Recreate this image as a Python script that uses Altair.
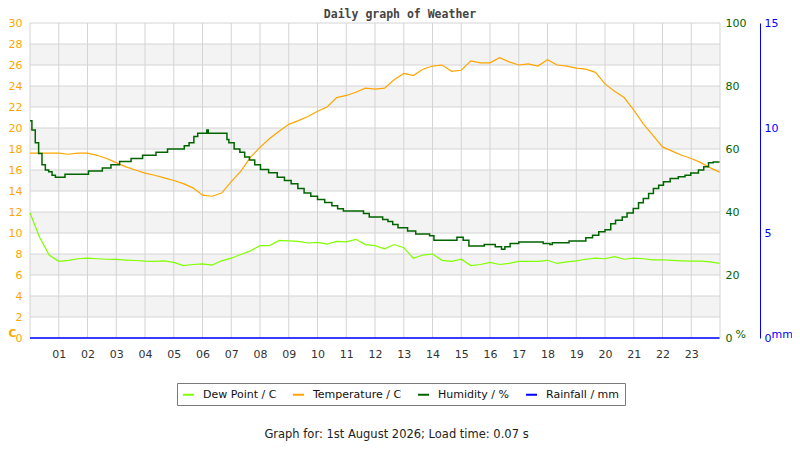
import altair as alt
import pandas as pd

# ---- data (time in minutes since midnight) ----
MINUTES = [
    0, 20, 40, 60, 80, 100, 120, 140, 160, 180, 200, 220,
    240, 260, 280, 300, 320, 340, 360, 380, 400, 420, 440, 460,
    480, 500, 520, 540, 560, 580, 600, 620, 640, 660, 680, 700,
    720, 740, 760, 780, 800, 820, 840, 860, 880, 900, 920, 940,
    960, 980, 1000, 1020, 1040, 1060, 1080, 1100, 1120, 1140, 1160, 1180,
    1200, 1220, 1240, 1260, 1280, 1300, 1320, 1340, 1360, 1380, 1400, 1420,
    1439,
]
TEMPERATURE = [
    17.6, 17.6, 17.6, 17.6, 17.5, 17.6, 17.6, 17.4, 17.1, 16.7, 16.3, 16.0,
    15.7, 15.5, 15.25, 15.0, 14.7, 14.3, 13.6, 13.5, 13.8, 14.9, 15.9, 17.2,
    18.15, 19.0, 19.7, 20.35, 20.7, 21.1, 21.6, 22.0, 22.9, 23.1, 23.4, 23.8,
    23.7, 23.8, 24.6, 25.2, 25.0, 25.6, 25.9, 26.0, 25.4, 25.5, 26.4, 26.2,
    26.2, 26.7, 26.3, 26.0, 26.1, 25.9, 26.5, 26.0, 25.9, 25.7, 25.6, 25.3,
    24.2, 23.5, 22.9, 21.7, 20.4, 19.3, 18.2, 17.8, 17.4, 17.1, 16.7, 16.2,
    15.8,
]
DEW_POINT = [
    11.9, 9.6, 7.9, 7.3, 7.4, 7.55, 7.6, 7.55, 7.5, 7.48, 7.42, 7.38,
    7.32, 7.3, 7.35, 7.2, 6.9, 7.0, 7.05, 6.95, 7.35, 7.6, 7.95, 8.3,
    8.8, 8.8, 9.3, 9.25, 9.2, 9.05, 9.1, 8.95, 9.2, 9.15, 9.4, 8.9,
    8.8, 8.5, 8.9, 8.6, 7.6, 7.9, 8.0, 7.4, 7.3, 7.5, 6.9, 7.0,
    7.2, 7.0, 7.1, 7.3, 7.3, 7.3, 7.4, 7.1, 7.25, 7.35, 7.5, 7.6,
    7.55, 7.75, 7.5, 7.6, 7.55, 7.45, 7.45, 7.4, 7.35, 7.32, 7.32, 7.25,
    7.1,
]
# humidity is logged as steps: minute at which each new reading starts
HUM_MINUTES = [
    0, 4, 11, 18, 25, 32, 39, 46, 53, 73, 122, 151, 169, 187, 211, 235,
    263, 287, 322, 332, 342, 350, 369, 372, 411, 415, 426, 438, 448, 458,
    469, 481, 498, 516, 531, 545, 559, 572, 586, 600, 615, 630, 642, 654,
    696, 708, 736, 747, 757, 768, 788, 805, 834, 843, 891, 904, 916, 948,
    971, 984, 991, 1002, 1020, 1071, 1085, 1090, 1125, 1160, 1174, 1187,
    1200, 1212, 1222, 1236, 1246, 1259, 1270, 1280, 1291, 1301, 1312, 1322,
    1336, 1353, 1367, 1379, 1395, 1406, 1416, 1426, 1439,
]
HUMIDITY = [
    69, 66, 62, 58.6, 55, 53.3, 52.8, 51.7, 51, 52, 53, 54, 55, 56, 57, 58,
    59, 60, 61, 62, 64, 65, 66, 65, 63, 62, 60, 59, 57.5, 56.5,
    55, 53.5, 52.5, 51, 50, 49, 47.5, 46, 45, 44, 43, 42, 41, 40.3,
    39.5, 38.4, 37.6, 37, 36, 35, 34, 33, 32.5, 31, 32, 31, 29.2, 29.7,
    29, 28.2, 29, 30, 30.5, 30, 29.7, 30.2, 30.8, 31.8, 32.6, 33.7,
    34.4, 36.3, 37.4, 38.4, 39.7, 41.1, 42.9, 44.3, 45.9, 47.5, 48.5, 49.6,
    50.6, 51.2, 51.7, 52.4, 53.3, 54.4, 55.6, 55.9, 55.9,
]
RAIN_MINUTES = [0, 1439]
RAINFALL = [0.0, 0.0]

SERIES = ["Dew Point / C", "Temperature / C", "Humidity / %", "Rainfall / mm"]
COLORS = ["#80ff00", "#ffa500", "#006400", "#0000ff"]

GRID_HOURS = list(range(0, 25))
LABEL_HOURS = list(range(1, 24))
TEMP_TICKS = list(range(0, 31, 2))
BAND_STARTS = [2, 6, 10, 14, 18, 22, 26]
HUM_TICKS = [0, 20, 40, 60, 80, 100]
RAIN_TICKS = [0, 5, 10, 15]

TITLE = "Daily graph of Weather"
FOOTER = "Graph for: 1st August 2026; Load time: 0.07 s"

FONT = "DejaVu Sans"

# ---- tables ----
hours = [m / 60 for m in MINUTES]
temp_df = pd.DataFrame(
    {"hour": hours * 2,
     "value": DEW_POINT + TEMPERATURE,
     "series": [SERIES[0]] * len(hours) + [SERIES[1]] * len(hours)}
)
hum_df = pd.DataFrame({"hour": [m / 60 for m in HUM_MINUTES], "value": HUMIDITY,
                       "series": SERIES[2]})
rain_df = pd.DataFrame({"hour": [m / 60 for m in RAIN_MINUTES], "value": RAINFALL,
                        "series": SERIES[3]})
band_df = pd.DataFrame({"lo": BAND_STARTS, "hi": [b + 2 for b in BAND_STARTS]})
vgrid_df = pd.DataFrame({"hour": GRID_HOURS})
hgrid_df = pd.DataFrame({"t": TEMP_TICKS})

x_scale = alt.Scale(domain=[0, 24], nice=False, zero=False)
t_scale = alt.Scale(domain=[0, 30], nice=False)
h_scale = alt.Scale(domain=[0, 100], nice=False)
r_scale = alt.Scale(domain=[0, 15], nice=False)
color_scale = alt.Scale(domain=SERIES, range=COLORS)

GRID_COLOR = "#d4d4d4"

x_axis = alt.Axis(
    values=LABEL_HOURS,
    labelExpr="datum.value < 10 ? '0' + datum.value : '' + datum.value",
    grid=False, ticks=False, domain=False,
    labelColor="#333333", labelFont=FONT, labelFontSize=11, labelPadding=10,
    labelFlush=False, labelOverlap=False,
    title=FOOTER, titleX=366, titleY=99, titleAlign="center",
    titleBaseline="alphabetic", titleFont=FONT, titleFontSize=11.5,
    titleFontWeight="normal", titleColor="#222222",
)
t_axis = alt.Axis(
    values=TEMP_TICKS, grid=False, ticks=False, domain=False,
    labelColor="#ffa500", labelFont=FONT, labelFontSize=11, labelPadding=8,
    labelFlush=False, labelOverlap=False,
    title="C", titleAngle=0, titleX=-22, titleY=313, titleAlign="left",
    titleBaseline="alphabetic", titleColor="#ffa500", titleFont=FONT,
    titleFontSize=10.5, titleFontWeight="bold",
)
h_axis = alt.Axis(
    orient="right", values=HUM_TICKS, grid=False, ticks=False, domain=False,
    labelColor="#006400", labelFont=FONT, labelFontSize=11, labelPadding=5,
    labelFlush=False, labelOverlap=False,
    title="%", titleAngle=0, titleX=15, titleY=314, titleAlign="left",
    titleBaseline="alphabetic", titleColor="#006400", titleFont=FONT,
    titleFontSize=11, titleFontWeight="normal",
)
r_axis = alt.Axis(
    orient="right", offset=40, values=RAIN_TICKS, grid=False, ticks=False,
    domain=True, domainColor="#0000ff", domainWidth=1,
    labelColor="#0000ff", labelFont=FONT, labelFontSize=11, labelPadding=4,
    labelFlush=False, labelOverlap=False,
    title="mm", titleAngle=0, titleX=11, titleY=314, titleAlign="left",
    titleBaseline="alphabetic", titleColor="#0000ff", titleFont=FONT,
    titleFontSize=11, titleFontWeight="normal",
)

legend = alt.Legend(
    title=None, orient="none", legendX=147, legendY=360, direction="horizontal",
    columns=4, strokeColor="#7a7a7a", fillColor="#ffffff", padding=5,
    symbolType="stroke", symbolSize=121, symbolStrokeWidth=2,
    labelFont=FONT, labelFontSize=11, labelColor="#111111",
    labelOffset=8, columnPadding=12,
)

def xenc():
    return alt.X("hour:Q", scale=x_scale, axis=x_axis, title=FOOTER)

bands = alt.Chart(band_df).mark_rect(color="#f3f3f3").encode(
    x=alt.datum(0, scale=x_scale, axis=x_axis, title=FOOTER),
    x2=alt.datum(24),
    y=alt.Y("lo:Q", scale=t_scale, axis=t_axis, title="C"),
    y2="hi:Q",
)
vgrid = alt.Chart(vgrid_df).mark_rule(color=GRID_COLOR, strokeWidth=1).encode(
    x=xenc()
)
hgrid = alt.Chart(hgrid_df).mark_rule(color=GRID_COLOR, strokeWidth=1).encode(
    y=alt.Y("t:Q", scale=t_scale, axis=t_axis, title="C")
)
temp_lines = alt.Chart(temp_df).mark_line(strokeWidth=1.2).encode(
    x=xenc(),
    y=alt.Y("value:Q", scale=t_scale, axis=t_axis, title="C"),
    color=alt.Color("series:N", scale=color_scale, legend=legend, sort=SERIES),
    detail="series:N",
)
temp_layer = alt.layer(bands, vgrid, hgrid, temp_lines)

hum_layer = alt.Chart(hum_df).mark_line(strokeWidth=1.5, interpolate="step-after").encode(
    x=xenc(),
    y=alt.Y("value:Q", scale=h_scale, axis=h_axis, title="%"),
    color=alt.Color("series:N", scale=color_scale, legend=legend, sort=SERIES),
)
rain_layer = alt.Chart(rain_df).mark_line(strokeWidth=1.5).encode(
    x=xenc(),
    y=alt.Y("value:Q", scale=r_scale, axis=r_axis, title="mm"),
    color=alt.Color("series:N", scale=color_scale, legend=legend, sort=SERIES),
)

chart = alt.layer(temp_layer, hum_layer, rain_layer).resolve_scale(
    y="independent"
).properties(
    width=690,
    height=315,
    title=alt.Title(TITLE, font="DejaVu Sans Mono", fontSize=11.5, fontWeight="bold",
                    color="#444444", anchor="middle", dx=25, dy=9, offset=6),
    autosize=alt.AutoSizeParams(type="none"),
    padding={"left": 22, "top": 15, "right": 72, "bottom": 104},
    background="#ffffff",
).configure_view(strokeWidth=0)

chart.save("out.html", embed_options={"renderer": "svg", "actions": False})
